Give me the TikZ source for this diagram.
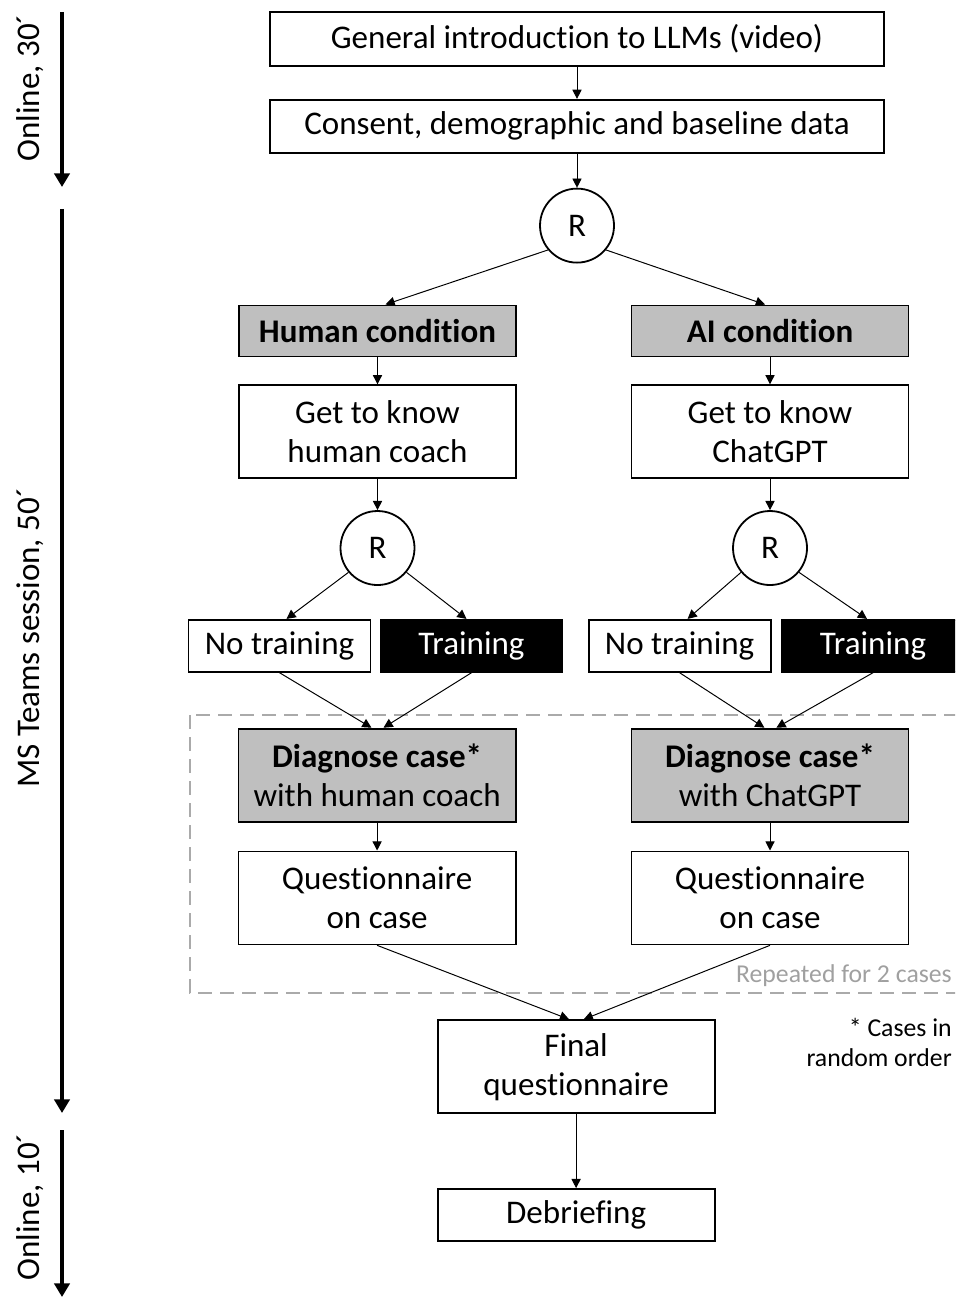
\documentclass[tikz,border=0pt]{standalone}
\usepackage{fontspec}
\setmainfont{Carlito}[Ligatures=NoCommon]
\usetikzlibrary{positioning,arrows.meta,calc}
\definecolor{condgray}{RGB}{191,191,191}
\definecolor{dashgray}{RGB}{170,170,170}
\definecolor{notegray}{RGB}{160,160,160}

\begin{document}
\begin{tikzpicture}[
  x=0.25mm, y=-0.25mm,
  >={Triangle[length=2.3mm,width=2.3mm]},
  box/.style={rectangle,draw,line width=0.45mm,align=center,inner sep=0pt,
              minimum width=69.25mm,minimum height=23.25mm,font=\fontsize{23.5}{27.7}\selectfont},
  wide/.style={box,minimum width=153.5mm,minimum height=13.5mm},
  cond/.style={box,fill=condgray,minimum height=12.75mm,font=\fontsize{23.5}{27.7}\selectfont\bfseries},
  diag/.style={box,fill=condgray},
  choice/.style={box,minimum width=45.5mm,minimum height=13mm},
  choicedark/.style={choice,fill=black,text=white},
  rnd/.style={circle,draw,line width=0.45mm,minimum size=18.5mm,inner sep=0pt,
              font=\fontsize{23.5}{27.7}\selectfont},
  link/.style={->,line width=0.7pt},
  tline/.style={-{Triangle[length=3.4mm,width=3.8mm]},line width=1mm},
  tlab/.style={rotate=90,inner sep=0pt,font=\fontsize{23.5}{27.7}\selectfont},
  note/.style={inner sep=0pt,font=\fontsize{18.3}{21.3}\selectfont},
  rep/.style={dashgray,line width=0.4mm,dash pattern=on 3.5mm off 2mm}
]
\useasboundingbox (0,0) rectangle (955,1298);
\clip (0,0) rectangle (955,1298);

% time line on the left
\coordinate (t1a) at (62,12);   \coordinate (t1b) at (62,187);
\coordinate (t2a) at (62,209);  \coordinate (t2b) at (62,1113);
\coordinate (t3a) at (62,1130); \coordinate (t3b) at (62,1297);
\draw[tline] (t1a) -- (t1b);
\draw[tline] (t2a) -- (t2b);
\draw[tline] (t3a) -- (t3b);
\node[tlab] (t1lab) at (30,88) {Online, 30´};
\node[tlab] (t2lab) at (30,638) {MS Teams session, 50´};
\node[tlab] (t3lab) at (30,1207) {Online, 10´};

% repeated block
\draw[rep] (190,715) rectangle (1000,993);
\node[note,anchor=base east,text=notegray] (repeat) at (952,982) {Repeated for 2 cases};
\node[note,anchor=north east,align=right] (order) at (952,1018) {* Cases in\\random order};

% main flow
\node[wide] (intro) at (577,39) {General introduction to LLMs (video)};
\node[wide,below=8mm of intro,minimum height=13.25mm] (consent) {Consent, demographic and baseline data};
\node[rnd,below=8.5mm of consent] (R0) {R};

\node[cond,below=10.25mm of R0,xshift=-49.875mm] (hum) {Human condition};
\node[cond,below=10.25mm of R0,xshift=48.25mm] (ai) {AI condition};
\node[box,below=6.75mm of hum] (knowH) {Get to know\\human coach};
\node[box,below=6.75mm of ai] (knowA) {Get to know\\ChatGPT};
\node[rnd,below=7.75mm of knowH] (RH) {R};
\node[rnd,below=7.75mm of knowA] (RA) {R};

\node[choice,below=8.25mm of RH,xshift=-24.5mm] (noH) {No training};
\node[choicedark,below=8.25mm of RH,xshift=23.5mm] (trH) {Training};
\node[choice,below=8.25mm of RA,xshift=-22.6mm] (noA) {No training};
\node[choicedark,below=8.25mm of RA,xshift=25.75mm] (trA) {Training};

\node[diag,below=13.75mm of noH,xshift=24.4mm] (diagH) {\textbf{Diagnose case*}\\with human coach};
\node[diag,below=13.75mm of noA,xshift=22.6mm] (diagA) {\textbf{Diagnose case*}\\with ChatGPT};
\node[box,below=7mm of diagH] (qH) {Questionnaire\\on case};
\node[box,below=7mm of diagA] (qA) {Questionnaire\\on case};

\node[box,below=18.5mm of qH,xshift=49.75mm] (final) {Final\\questionnaire};
\node[box,below=18.5mm of final,minimum height=13mm] (debrief) {Debriefing};

\draw[link] (intro) -- (consent);
\draw[link] (consent) -- (R0);
\draw[link] (R0.220) -- ([xshift=2mm]hum.north);
\draw[link] (R0.320) -- ([xshift=-1.25mm]ai.north);
\draw[link] (hum) -- (knowH);
\draw[link] (ai) -- (knowA);
\draw[link] (knowH) -- (RH);
\draw[link] (knowA) -- (RA);
\draw[link] (RH.220) -- ([xshift=1.75mm]noH.north);
\draw[link] (RH.320) -- ([xshift=-1.25mm]trH.north);
\draw[link] (RA.220) -- ([xshift=2mm]noA.north);
\draw[link] (RA.320) -- ([xshift=-1.5mm]trA.north);
\draw[link] (noH.south) -- ([xshift=-1.4mm]diagH.north);
\draw[link] (trH.south) -- ([xshift=1.6mm]diagH.north);
\draw[link] (noA.south) -- ([xshift=-1.4mm]diagA.north);
\draw[link] (trA.south) -- ([xshift=1.6mm]diagA.north);
\draw[link] (diagH) -- (qH);
\draw[link] (diagA) -- (qA);
\draw[link] (qH.south) -- ([xshift=-1.75mm]final.north);
\draw[link] (qA.south) -- ([xshift=1.9mm]final.north);
\draw[link] (final) -- (debrief);
\end{tikzpicture}
\end{document}
